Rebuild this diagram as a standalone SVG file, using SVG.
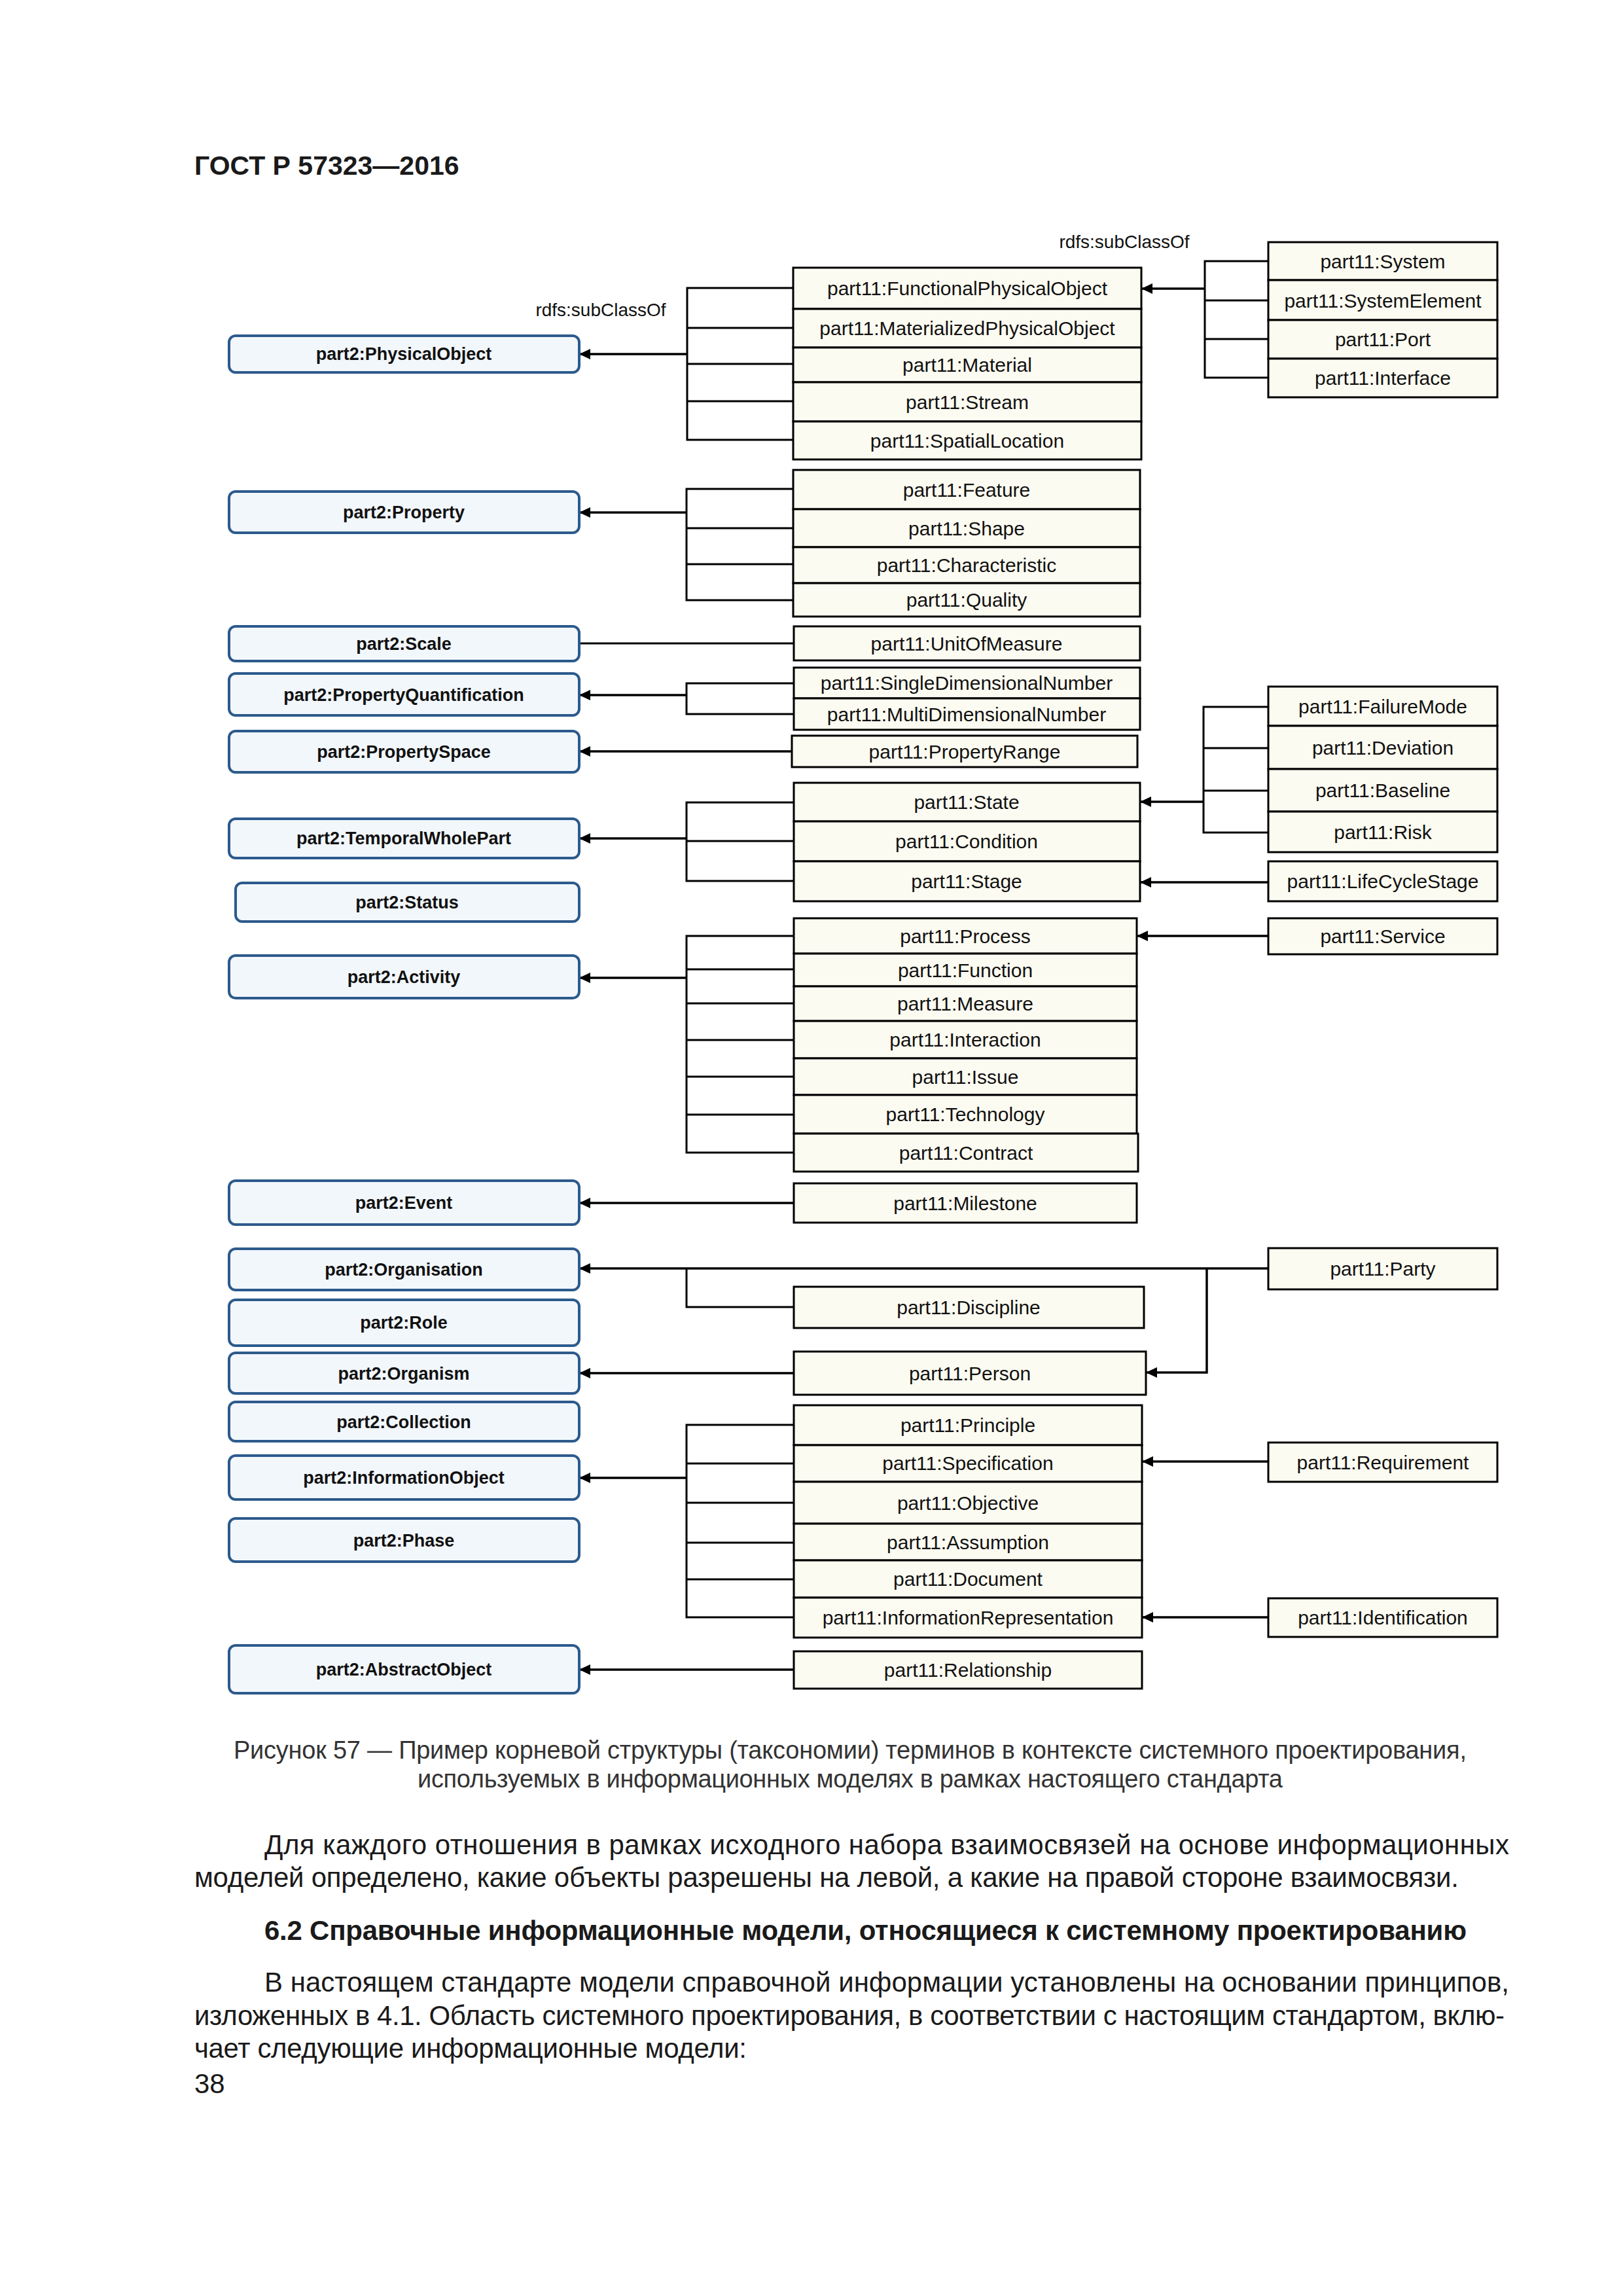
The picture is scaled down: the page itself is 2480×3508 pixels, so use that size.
<svg xmlns="http://www.w3.org/2000/svg" width="2480" height="3508" viewBox="0 0 2480 3508">
<defs>
<style>
.l{fill:#F2F7FC;stroke:#2C5A8C;stroke-width:4}
.m{fill:#FCFBF1;stroke:#000;stroke-width:3}
.lt{font-family:"Liberation Sans",Arial,sans-serif;font-weight:bold;font-size:27px;fill:#111;text-anchor:middle}
.mt{font-family:"Liberation Sans",Arial,sans-serif;font-size:30px;fill:#111;text-anchor:middle}
.c{fill:none;stroke:#000;stroke-width:3}
.a{fill:none;stroke:#000;stroke-width:3.5;marker-end:url(#ah)}
.lab{font-family:"Liberation Sans",Arial,sans-serif;font-size:28px;fill:#111;text-anchor:middle}
.body{font-family:"Liberation Sans",Arial,sans-serif;font-size:42px;fill:#1a1a1a}
.cap{font-family:"Liberation Sans",Arial,sans-serif;font-size:38px;fill:#333}
.hd{font-family:"Liberation Sans",Arial,sans-serif;font-size:42px;font-weight:bold;fill:#1a1a1a}
</style>
<marker id="ah" markerUnits="userSpaceOnUse" markerWidth="18" markerHeight="16" refX="17" refY="8" orient="auto"><path d="M0,0 L17,8 L0,16 z" fill="#000"/></marker>
</defs>
<rect width="2480" height="3508" fill="#fff"/>
<text x="297" y="267" font-family="Liberation Sans,Arial,sans-serif" font-weight="bold" font-size="41" fill="#1a1a1a">ГОСТ Р 57323—2016</text>

<text class="lab" x="918" y="483">rdfs:subClassOf</text>
<text class="lab" x="1718" y="379">rdfs:subClassOf</text>

<g id="connectors">
<path class="c" d="M1212,440 H1050 V672 H1212 M1050,501 H1212 M1050,556 H1212 M1050,613 H1212"/>
<path class="a" d="M1050,541 H885"/>
<path class="c" d="M1938,399 H1841 V577 H1938 M1841,459 H1938 M1841,518 H1938"/>
<path class="a" d="M1841,441 H1744"/>
<path class="c" d="M1212,747 H1049 V917 H1212 M1049,807 H1212 M1049,862 H1212"/>
<path class="a" d="M1049,783 H885"/>
<path class="c" d="M1213,983 H885"/>
<path class="c" d="M1213,1044 H1049 V1091 H1213"/>
<path class="a" d="M1049,1062 H885"/>
<path class="a" d="M1210,1148 H885"/>
<path class="c" d="M1938,1080 H1839 V1272 H1938 M1839,1143 H1938 M1839,1208 H1938"/>
<path class="a" d="M1839,1225 H1742"/>
<path class="c" d="M1213,1226 H1049 V1346 H1213 M1049,1285 H1213"/>
<path class="a" d="M1049,1281 H885"/>
<path class="a" d="M1938,1348 H1742"/>
<path class="a" d="M1938,1430 H1737"/>
<path class="c" d="M1213,1430 H1049 V1761 H1213 M1049,1481 H1213 M1049,1533 H1213 M1049,1589 H1213 M1049,1645 H1213 M1049,1703 H1213"/>
<path class="a" d="M1049,1494 H885"/>
<path class="a" d="M1213,1838 H885"/>
<path class="a" d="M1938,1938 H885"/>
<path class="c" d="M1049,1938 V1997 H1213"/>
<path class="a" d="M1844,1938 V2097 H1751"/>
<path class="a" d="M1213,2098 H885"/>
<path class="c" d="M1213,2177 H1049 V2471 H1213 M1049,2236 H1213 M1049,2296 H1213 M1049,2357 H1213 M1049,2413 H1213"/>
<path class="a" d="M1049,2258 H885"/>
<path class="a" d="M1938,2233 H1745"/>
<path class="a" d="M1938,2471 H1745"/>
<path class="a" d="M1213,2551 H885"/>
</g>

<g id="part2-PhysicalObject"><rect class="l" x="350" y="513" width="535" height="56" rx="10"/><text class="lt" x="617" y="550">part2:PhysicalObject</text></g>
<g id="part2-Property"><rect class="l" x="350" y="751" width="535" height="63" rx="10"/><text class="lt" x="617" y="792">part2:Property</text></g>
<g id="part2-Scale"><rect class="l" x="350" y="957" width="535" height="53" rx="10"/><text class="lt" x="617" y="993">part2:Scale</text></g>
<g id="part2-PropertyQuantification"><rect class="l" x="350" y="1029" width="535" height="64" rx="10"/><text class="lt" x="617" y="1071">part2:PropertyQuantification</text></g>
<g id="part2-PropertySpace"><rect class="l" x="350" y="1117" width="535" height="63" rx="10"/><text class="lt" x="617" y="1158">part2:PropertySpace</text></g>
<g id="part2-TemporalWholePart"><rect class="l" x="350" y="1251" width="535" height="60" rx="10"/><text class="lt" x="617" y="1290">part2:TemporalWholePart</text></g>
<g id="part2-Status"><rect class="l" x="360" y="1349" width="525" height="59" rx="10"/><text class="lt" x="622" y="1388">part2:Status</text></g>
<g id="part2-Activity"><rect class="l" x="350" y="1460" width="535" height="65" rx="10"/><text class="lt" x="617" y="1502">part2:Activity</text></g>
<g id="part2-Event"><rect class="l" x="350" y="1804" width="535" height="67" rx="10"/><text class="lt" x="617" y="1847">part2:Event</text></g>
<g id="part2-Organisation"><rect class="l" x="350" y="1908" width="535" height="63" rx="10"/><text class="lt" x="617" y="1949">part2:Organisation</text></g>
<g id="part2-Role"><rect class="l" x="350" y="1986" width="535" height="70" rx="10"/><text class="lt" x="617" y="2030">part2:Role</text></g>
<g id="part2-Organism"><rect class="l" x="350" y="2067" width="535" height="62" rx="10"/><text class="lt" x="617" y="2108">part2:Organism</text></g>
<g id="part2-Collection"><rect class="l" x="350" y="2142" width="535" height="60" rx="10"/><text class="lt" x="617" y="2182">part2:Collection</text></g>
<g id="part2-InformationObject"><rect class="l" x="350" y="2224" width="535" height="67" rx="10"/><text class="lt" x="617" y="2267">part2:InformationObject</text></g>
<g id="part2-Phase"><rect class="l" x="350" y="2320" width="535" height="66" rx="10"/><text class="lt" x="617" y="2363">part2:Phase</text></g>
<g id="part2-AbstractObject"><rect class="l" x="350" y="2514" width="535" height="73" rx="10"/><text class="lt" x="617" y="2560">part2:AbstractObject</text></g>

<g id="part11-FunctionalPhysicalObject"><rect class="m" x="1212" y="409" width="532" height="63"/><text class="mt" x="1478" y="451">part11:FunctionalPhysicalObject</text></g>
<g id="part11-MaterializedPhysicalObject"><rect class="m" x="1212" y="472" width="532" height="59"/><text class="mt" x="1478" y="512">part11:MaterializedPhysicalObject</text></g>
<g id="part11-Material"><rect class="m" x="1212" y="531" width="532" height="53"/><text class="mt" x="1478" y="568">part11:Material</text></g>
<g id="part11-Stream"><rect class="m" x="1212" y="584" width="532" height="60"/><text class="mt" x="1478" y="625">part11:Stream</text></g>
<g id="part11-SpatialLocation"><rect class="m" x="1212" y="644" width="532" height="58"/><text class="mt" x="1478" y="684">part11:SpatialLocation</text></g>

<g id="part11-System"><rect class="m" x="1938" y="370" width="350" height="58"/><text class="mt" x="2113" y="410">part11:System</text></g>
<g id="part11-SystemElement"><rect class="m" x="1938" y="428" width="350" height="61"/><text class="mt" x="2113" y="470">part11:SystemElement</text></g>
<g id="part11-Port"><rect class="m" x="1938" y="489" width="350" height="59"/><text class="mt" x="2113" y="529">part11:Port</text></g>
<g id="part11-Interface"><rect class="m" x="1938" y="548" width="350" height="59"/><text class="mt" x="2113" y="588">part11:Interface</text></g>

<g id="part11-Feature"><rect class="m" x="1212" y="718" width="530" height="60"/><text class="mt" x="1477" y="759">part11:Feature</text></g>
<g id="part11-Shape"><rect class="m" x="1212" y="778" width="530" height="58"/><text class="mt" x="1477" y="818">part11:Shape</text></g>
<g id="part11-Characteristic"><rect class="m" x="1212" y="836" width="530" height="55"/><text class="mt" x="1477" y="874">part11:Characteristic</text></g>
<g id="part11-Quality"><rect class="m" x="1212" y="891" width="530" height="51"/><text class="mt" x="1477" y="927">part11:Quality</text></g>

<g id="part11-UnitOfMeasure"><rect class="m" x="1213" y="957" width="529" height="52"/><text class="mt" x="1477" y="994">part11:UnitOfMeasure</text></g>
<g id="part11-SingleDimensionalNumber"><rect class="m" x="1213" y="1020" width="529" height="47"/><text class="mt" x="1477" y="1054">part11:SingleDimensionalNumber</text></g>
<g id="part11-MultiDimensionalNumber"><rect class="m" x="1213" y="1067" width="529" height="48"/><text class="mt" x="1477" y="1102">part11:MultiDimensionalNumber</text></g>
<g id="part11-PropertyRange"><rect class="m" x="1210" y="1124" width="528" height="48"/><text class="mt" x="1474" y="1159">part11:PropertyRange</text></g>

<g id="part11-FailureMode"><rect class="m" x="1938" y="1049" width="350" height="60"/><text class="mt" x="2113" y="1090">part11:FailureMode</text></g>
<g id="part11-Deviation"><rect class="m" x="1938" y="1109" width="350" height="66"/><text class="mt" x="2113" y="1153">part11:Deviation</text></g>
<g id="part11-Baseline"><rect class="m" x="1938" y="1175" width="350" height="65"/><text class="mt" x="2113" y="1218">part11:Baseline</text></g>
<g id="part11-Risk"><rect class="m" x="1938" y="1240" width="350" height="62"/><text class="mt" x="2113" y="1282">part11:Risk</text></g>

<g id="part11-State"><rect class="m" x="1213" y="1196" width="529" height="59"/><text class="mt" x="1477" y="1236">part11:State</text></g>
<g id="part11-Condition"><rect class="m" x="1213" y="1255" width="529" height="61"/><text class="mt" x="1477" y="1296">part11:Condition</text></g>
<g id="part11-Stage"><rect class="m" x="1213" y="1316" width="529" height="61"/><text class="mt" x="1477" y="1357">part11:Stage</text></g>
<g id="part11-LifeCycleStage"><rect class="m" x="1938" y="1316" width="350" height="61"/><text class="mt" x="2113" y="1357">part11:LifeCycleStage</text></g>

<g id="part11-Process"><rect class="m" x="1213" y="1403" width="524" height="54"/><text class="mt" x="1475" y="1441">part11:Process</text></g>
<g id="part11-Function"><rect class="m" x="1213" y="1457" width="524" height="50"/><text class="mt" x="1475" y="1493">part11:Function</text></g>
<g id="part11-Measure"><rect class="m" x="1213" y="1507" width="524" height="53"/><text class="mt" x="1475" y="1544">part11:Measure</text></g>
<g id="part11-Interaction"><rect class="m" x="1213" y="1560" width="524" height="57"/><text class="mt" x="1475" y="1599">part11:Interaction</text></g>
<g id="part11-Issue"><rect class="m" x="1213" y="1617" width="524" height="56"/><text class="mt" x="1475" y="1656">part11:Issue</text></g>
<g id="part11-Technology"><rect class="m" x="1213" y="1673" width="524" height="59"/><text class="mt" x="1475" y="1713">part11:Technology</text></g>
<g id="part11-Contract"><rect class="m" x="1213" y="1732" width="526" height="58"/><text class="mt" x="1476" y="1772">part11:Contract</text></g>
<g id="part11-Service"><rect class="m" x="1938" y="1403" width="350" height="55"/><text class="mt" x="2113" y="1441">part11:Service</text></g>

<g id="part11-Milestone"><rect class="m" x="1213" y="1808" width="524" height="60"/><text class="mt" x="1475" y="1849">part11:Milestone</text></g>
<g id="part11-Party"><rect class="m" x="1938" y="1907" width="350" height="63"/><text class="mt" x="2113" y="1949">part11:Party</text></g>
<g id="part11-Discipline"><rect class="m" x="1213" y="1966" width="535" height="63"/><text class="mt" x="1480" y="2008">part11:Discipline</text></g>
<g id="part11-Person"><rect class="m" x="1213" y="2065" width="538" height="66"/><text class="mt" x="1482" y="2109">part11:Person</text></g>

<g id="part11-Principle"><rect class="m" x="1213" y="2147" width="532" height="61"/><text class="mt" x="1479" y="2188">part11:Principle</text></g>
<g id="part11-Specification"><rect class="m" x="1213" y="2208" width="532" height="56"/><text class="mt" x="1479" y="2246">part11:Specification</text></g>
<g id="part11-Objective"><rect class="m" x="1213" y="2264" width="532" height="64"/><text class="mt" x="1479" y="2307">part11:Objective</text></g>
<g id="part11-Assumption"><rect class="m" x="1213" y="2328" width="532" height="56"/><text class="mt" x="1479" y="2367">part11:Assumption</text></g>
<g id="part11-Document"><rect class="m" x="1213" y="2384" width="532" height="57"/><text class="mt" x="1479" y="2423">part11:Document</text></g>
<g id="part11-InformationRepresentation"><rect class="m" x="1213" y="2441" width="532" height="61"/><text class="mt" x="1479" y="2482">part11:InformationRepresentation</text></g>
<g id="part11-Requirement"><rect class="m" x="1938" y="2204" width="350" height="60"/><text class="mt" x="2113" y="2245">part11:Requirement</text></g>
<g id="part11-Identification"><rect class="m" x="1938" y="2442" width="350" height="59"/><text class="mt" x="2113" y="2482">part11:Identification</text></g>
<g id="part11-Relationship"><rect class="m" x="1213" y="2523" width="532" height="57"/><text class="mt" x="1479" y="2562">part11:Relationship</text></g>

<text class="cap" x="357" y="2687" textLength="1884" lengthAdjust="spacing">Рисунок 57 — Пример корневой структуры (таксономии) терминов в контексте системного проектирования,</text>
<text class="cap" x="638" y="2731" textLength="1322" lengthAdjust="spacing">используемых в информационных моделях в рамках настоящего стандарта</text>
<text class="body" x="404" y="2833" textLength="1902" lengthAdjust="spacing">Для каждого отношения в рамках исходного набора взаимосвязей на основе информационных</text>
<text class="body" x="297" y="2883" textLength="1932" lengthAdjust="spacing">моделей определено, какие объекты разрешены на левой, а какие на правой стороне взаимосвязи.</text>
<text class="hd" x="404" y="2964" textLength="1837" lengthAdjust="spacing">6.2 Справочные информационные модели, относящиеся к системному проектированию</text>
<text class="body" x="404" y="3043" textLength="1902" lengthAdjust="spacing">В настоящем стандарте модели справочной информации установлены на основании принципов,</text>
<text class="body" x="297" y="3094" textLength="2002" lengthAdjust="spacing">изложенных в 4.1. Область системного проектирования, в соответствии с настоящим стандартом, вклю-</text>
<text class="body" x="297" y="3144" textLength="844" lengthAdjust="spacing">чает следующие информационные модели:</text>
<text class="body" x="297" y="3198">38</text>
</svg>
